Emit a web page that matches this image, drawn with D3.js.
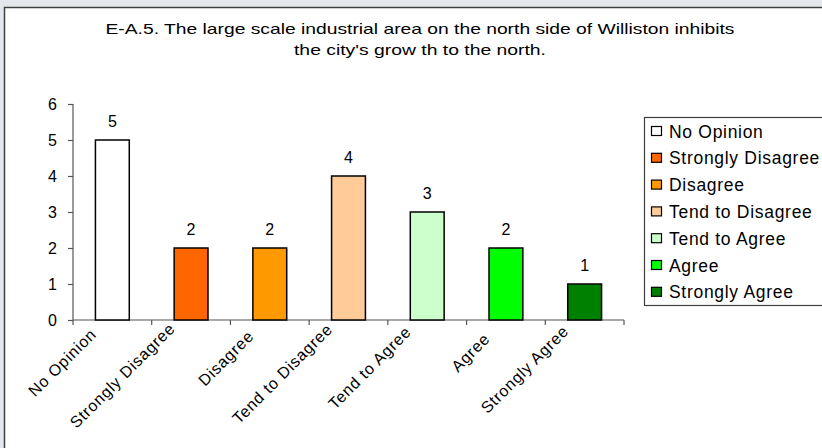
<!DOCTYPE html>
<html>
<head>
<meta charset="utf-8">
<script src="https://cdn.jsdelivr.net/npm/d3@7"></script>
<style>
html,body{margin:0;padding:0;background:#e4e8ec;}
svg{display:block;font-family:"Liberation Sans",Arial,sans-serif;}
</style>
</head>
<body>
<svg id="chart" width="822" height="448"></svg>
<script>
const titleLines = ["E-A.5.  The large scale industrial area on the north side of Williston inhibits", "the city's grow th to the north."];
const categories = ["No Opinion","Strongly Disagree","Disagree","Tend to Disagree","Tend to Agree","Agree","Strongly Agree"];
const values = [5,2,2,4,3,2,1];
const colors = ["#FFFFFF","#FF6600","#FF9900","#FFCC99","#CCFFCC","#00FF00","#008000"];
const yTicks = [0,1,2,3,4,5,6];

const svg = d3.select("#chart");

svg.append("rect").attr("x",0).attr("y",0).attr("width",822).attr("height",448).attr("fill","#e4e8ec");
svg.append("rect").attr("x",4.5).attr("y",7.5).attr("width",830).attr("height",460)
  .attr("fill","#fff").attr("stroke","#404040").attr("stroke-width",1.5);

// title
svg.append("g").selectAll("text").data(titleLines).join("text")
  .attr("x",420).attr("y",(d,i)=>34+i*20.5)
  .attr("text-anchor","middle").attr("font-size",15).attr("fill","#000")
  .attr("textLength",(d,i)=>i===0?629:252).attr("lengthAdjust","spacingAndGlyphs")
  .text(d=>d);

const x = d3.scaleBand().domain(categories).range([73,624]).padding(0);
const y = d3.scaleLinear().domain([0,6]).range([320,104]);

// y axis
const yAxis = svg.append("g").attr("transform","translate(73,0)")
  .call(d3.axisLeft(y).tickValues(yTicks).tickSize(5).tickPadding(11).tickFormat(d3.format("d")));
yAxis.selectAll("path,line").attr("stroke","#555").attr("stroke-width",1.2);
yAxis.select(".domain").attr("d","M0,104V320");
yAxis.selectAll("text").attr("font-size",16).attr("font-family","Liberation Sans,Arial,sans-serif").attr("fill","#000");

// x axis with ticks at category boundaries
const bounds = categories.map(c=>x(c)).concat([x.range()[1]]);
const xg = svg.append("g");
xg.append("line").attr("x1",73).attr("x2",624).attr("y1",320).attr("y2",320).attr("stroke","#555").attr("stroke-width",1.2);
xg.selectAll("line.t").data(bounds).join("line").attr("class","t")
  .attr("x1",d=>d).attr("x2",d=>d).attr("y1",320).attr("y2",325).attr("stroke","#555").attr("stroke-width",1.2);

// bars
const bw = x.bandwidth()*0.43;
svg.append("g").selectAll("rect").data(values).join("rect")
  .attr("x",(d,i)=>x(categories[i])+x.bandwidth()/2-bw/2)
  .attr("y",d=>y(d)).attr("width",bw).attr("height",d=>y(0)-y(d))
  .attr("fill",(d,i)=>colors[i]).attr("stroke","#000").attr("stroke-width",1.5);

// data labels
svg.append("g").selectAll("text").data(values).join("text")
  .attr("x",(d,i)=>x(categories[i])+x.bandwidth()/2)
  .attr("y",d=>y(d)-13).attr("text-anchor","middle").attr("font-size",16).attr("fill","#000")
  .text(d=>d);

// category labels rotated
const cl = svg.append("g").selectAll("text").data(categories).join("text")
  .attr("text-anchor","end").attr("font-size",16).attr("letter-spacing",0.8).attr("fill","#000")
  .text(d=>d);
cl.each(function(d){
  const len = this.getComputedTextLength();
  const ey = 345 - 0.11*len;
  d3.select(this).attr("transform",`translate(${x(d)+x.bandwidth()/2-15},${ey}) rotate(-45)`);
});

// legend
const lg = svg.append("g");
lg.append("rect").attr("x",644.5).attr("y",117.5).attr("width",200).attr("height",188)
  .attr("fill","#fff").attr("stroke","#404040").attr("stroke-width",1.2);
const items = lg.selectAll("g").data(categories).join("g")
  .attr("transform",(d,i)=>`translate(0,${131+i*26.8})`);
items.append("rect").attr("x",651.5).attr("y",-4.5).attr("width",10).attr("height",9)
  .attr("fill",(d,i)=>colors[i]).attr("stroke","#000").attr("stroke-width",1.2);
items.append("text").attr("x",669).attr("y",6.5).attr("font-size",17.5).attr("letter-spacing",0.7)
  .attr("fill","#000").text(d=>d);
</script>
</body>
</html>
